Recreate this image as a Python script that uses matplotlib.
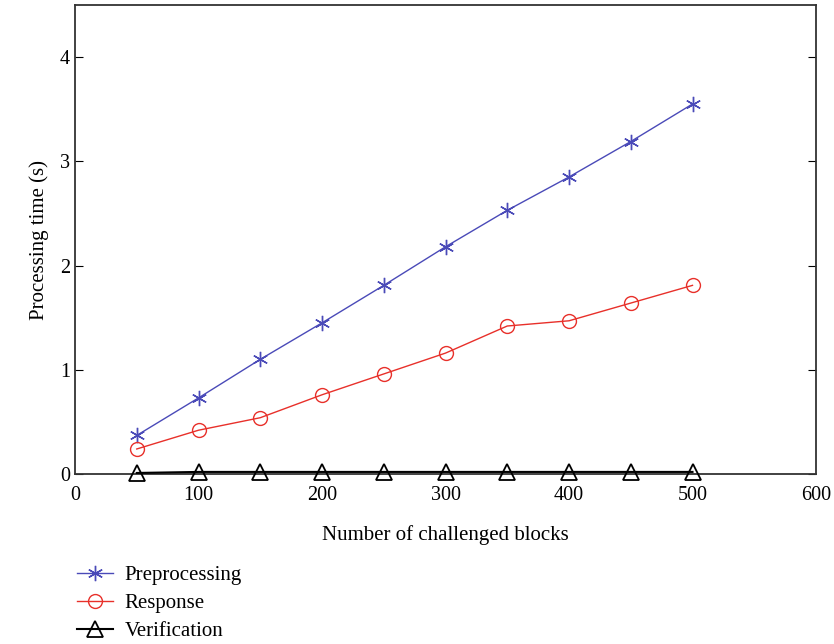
import matplotlib.pyplot as plt

plt.rcParams['font.family'] = ['Liberation Serif', 'DejaVu Serif']

blocks = [50, 100, 150, 200, 250, 300, 350, 400, 450, 500]
preprocessing = [0.37, 0.73, 1.10, 1.45, 1.81, 2.18, 2.53, 2.85, 3.19, 3.55]
response = [0.24, 0.42, 0.54, 0.76, 0.96, 1.16, 1.42, 1.47, 1.64, 1.81]
verification = [0.01, 0.02, 0.02, 0.02, 0.02, 0.02, 0.02, 0.02, 0.02, 0.02]

fig = plt.figure(figsize=(8.34, 6.44), dpi=100)
ax = fig.add_axes([75/834, 170/644, 741/834, 469/644])

ax.plot(blocks, preprocessing, color='#4a4ab8', marker=(6, 2, 0), markersize=11,
        linewidth=1, label='Preprocessing')
ax.plot(blocks, response, color='#e8302a', marker='o', markersize=10,
        markerfacecolor='none', linewidth=1, label='Response')
ax.plot(blocks, verification, color='black', marker='^', markersize=11,
        markerfacecolor='none', markeredgewidth=1.3, linewidth=1.5,
        label='Verification', clip_on=False, zorder=5)

ax.set_xlim(0, 600)
ax.set_ylim(0, 4.5)
ax.set_xticks([0, 100, 200, 300, 400, 500, 600])
ax.set_yticks([0, 1, 2, 3, 4])
ax.tick_params(axis='y', direction='in', right=True, length=6, labelsize=14.5)
ax.tick_params(axis='x', length=0, labelsize=14.5, pad=9)
for s in ax.spines.values():
    s.set_linewidth(1.3)
    s.set_color('#333333')

ax.set_xlabel('Number of challenged blocks', fontsize=15, labelpad=14)
ax.set_ylabel('Processing time (s)', fontsize=15, labelpad=8)

ax.legend(loc='upper left', bbox_to_anchor=(-0.009, -0.178), frameon=False,
          fontsize=15, handlelength=1.75, handletextpad=0.55,
          labelspacing=0.4, borderaxespad=0)

fig.savefig('out.png', dpi=100)
